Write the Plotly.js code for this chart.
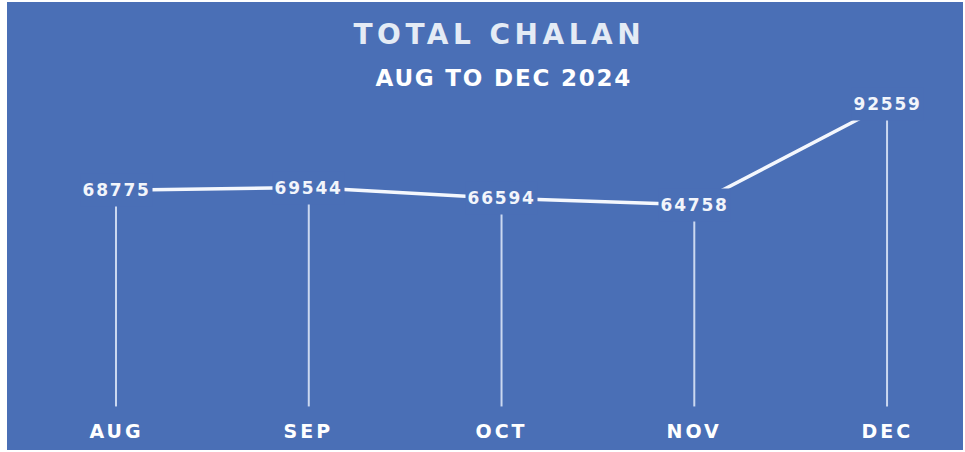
<!DOCTYPE html>
<html>
<head>
<meta charset="utf-8">
<script src="https://cdn.plot.ly/plotly-3.0.1.min.js"></script>
<style>
  html, body { margin: 0; padding: 0; background: #ffffff; }
  #chart { position: absolute; left: 7px; top: 2px; width: 956px; height: 448px; }
  .gtitle { letter-spacing: 4.5px; }
  .annotation text { letter-spacing: 1.8px; }
  .annotation[data-index="0"] text { letter-spacing: 1.8px; }
  .annotation[data-index="6"] text, .annotation[data-index="7"] text, .annotation[data-index="8"] text,
  .annotation[data-index="9"] text, .annotation[data-index="10"] text { letter-spacing: 3px; }
</style>
</head>
<body>
<div id="chart"></div>
<script>
const months = ["AUG", "SEP", "OCT", "NOV", "DEC"];
const chalan = [68775, 69544, 66594, 64758, 92559];
const dropFloor = 9000;

const BG = "#4a6fb6";

const dropTrace = {
  x: months,
  y: chalan,
  type: "scatter",
  mode: "markers",
  marker: { size: 1, opacity: 0 },
  error_y: {
    type: "data",
    symmetric: false,
    array: chalan.map(() => 0),
    arrayminus: chalan.map(v => v - dropFloor),
    color: "rgba(235,242,255,0.8)",
    thickness: 2,
    width: 0
  },
  hoverinfo: "skip",
  showlegend: false
};

const lineTrace = {
  x: months,
  y: chalan,
  type: "scatter",
  mode: "lines",
  line: { color: "rgba(250,252,255,0.97)", width: 3.5 },
  hoverinfo: "skip",
  showlegend: false
};

const annotations = [
  {
    text: "<b>AUG TO DEC 2024</b>",
    xref: "paper", yref: "paper",
    x: 0.52, y: 1 - 76 / 448,
    xanchor: "center", yanchor: "middle",
    showarrow: false,
    font: { family: "DejaVu Sans", size: 23, color: "#ffffff" }
  }
];
months.forEach((m, i) => {
  annotations.push({
    text: "<b>" + chalan[i] + "</b>",
    x: m, y: chalan[i],
    xref: "x", yref: "y",
    xanchor: "center", yanchor: "middle",
    showarrow: false,
    bgcolor: BG,
    borderpad: 6,
    font: { family: "DejaVu Sans", size: 17, color: "#f2f5fb" }
  });
});
months.forEach((m) => {
  annotations.push({
    text: "<b>" + m + "</b>",
    x: m, y: 1 - 429 / 448,
    xref: "x", yref: "paper",
    xanchor: "center", yanchor: "middle",
    showarrow: false,
    font: { family: "DejaVu Sans", size: 19, color: "#ffffff" }
  });
});

const layout = {
  width: 956,
  height: 448,
  margin: { l: 0, r: 0, t: 0, b: 0 },
  paper_bgcolor: BG,
  plot_bgcolor: BG,
  title: {
    text: "<b>TOTAL CHALAN</b>",
    x: 0.515, xanchor: "center",
    y: 1 - 32 / 448, yanchor: "middle",
    yref: "container",
    font: { family: "DejaVu Sans", size: 28, color: "#e4ebf5" }
  },
  xaxis: {
    type: "category",
    range: [-0.5655, 4.394],
    showgrid: false, zeroline: false, showticklabels: false, showline: false
  },
  yaxis: {
    range: [-3042, 120852],
    showgrid: false, zeroline: false, showticklabels: false, showline: false
  },
  annotations: annotations,
  showlegend: false
};

Plotly.newPlot("chart", [dropTrace, lineTrace], layout, { displayModeBar: false, staticPlot: true });
</script>
</body>
</html>
